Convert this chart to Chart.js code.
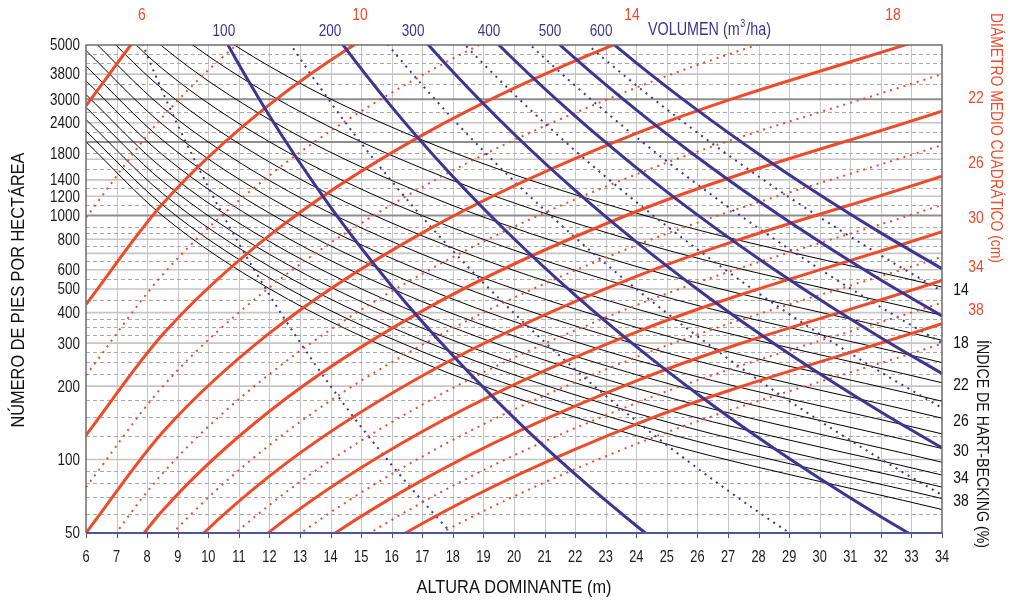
<!DOCTYPE html>
<html>
<head>
<meta charset="utf-8">
<script src="https://cdn.jsdelivr.net/npm/chart.js@4.4.1/dist/chart.umd.min.js"></script>
<style>
  html, body { margin: 0; padding: 0; background: #fff; }
  #wrap { width: 1010px; height: 603px; }
</style>
</head>
<body>
<div id="wrap"><canvas id="chart" width="1010" height="603"></canvas></div>
<script>
// dominant heights where the Hart-Becking and diameter curves were read
const heights = [6, 8.5, 12, 17, 24, 34];

// Hart-Becking index lines (%), trees per ha read at each height above
const hbIndex = [14, 16, 18, 20, 22, 24, 26, 28, 30, 32, 34, 36, 38, 40];
const hbTrees = [
  [16365, 8155, 4091, 2039, 1023, 509.6],
  [12529, 6243, 3132, 1561, 783.1, 390.2],
  [9900, 4933, 2475, 1233, 618.8, 308.3],
  [8019, 3996, 2005, 998.9, 501.2, 249.7],
  [6627, 3302, 1657, 825.5, 414.2, 206.4],
  [5569, 2775, 1392, 693.7, 348.1, 173.4],
  [4745, 2364, 1186, 591.1, 296.6, 147.8],
  [4091, 2039, 1023, 509.6, 255.7, 127.4],
  [3564, 1776, 891.0, 444.0, 222.8, 111.0],
  [3132, 1561, 783.0, 390.2, 195.8, 97.5],
  [2775, 1383, 693.8, 345.7, 173.4, 86.4],
  [2475, 1233, 618.8, 308.3, 154.7, 77.1],
  [2221, 1107, 555.3, 276.7, 138.8, 69.2],
  [2005, 999.1, 501.3, 249.8, 125.3, 62.4]
];
const hbLabelled = [14, 18, 22, 26, 30, 34, 38];

// quadratic mean diameter lines (cm), trees per ha at the same heights
const dgValues = [6, 8, 10, 12, 14, 16, 18, 20, 22, 24, 26, 28, 30, 32, 34, 36, 38, 40];
const dgTrees = [
  [2818, 7268, 18570, 47880, 122300, 315300],
  [981, 2529, 6461, 16660, 42570, 109700],
  [432.4, 1115, 2849, 7346, 18770, 48390],
  [221.4, 571.0, 1459, 3762, 9611, 24770],
  [125.8, 324.4, 828.9, 2137, 5461, 14080],
  [77.0, 198.6, 507.4, 1308, 3343, 8616],
  [50, 129.0, 329.5, 849.5, 2171, 5595],
  [33.98, 87.6, 223.9, 577.3, 1475, 3802],
  [23.94, 61.7, 157.7, 406.7, 1039, 2679],
  [17.39, 44.85, 114.6, 295.5, 754.9, 1946],
  [12.97, 33.45, 85.46, 220.4, 563.0, 1451],
  [9.881, 25.48, 65.11, 167.9, 428.9, 1106],
  [7.672, 19.79, 50.55, 130.3, 333.0, 858.5],
  [6.054, 15.61, 39.89, 102.9, 262.8, 677.4],
  [4.845, 12.50, 31.92, 82.32, 210.3, 542.2],
  [3.928, 10.13, 25.88, 66.74, 170.5, 439.5],
  [3.221, 8.307, 21.22, 54.72, 139.8, 360.4],
  [2.668, 6.881, 17.58, 45.33, 115.8, 298.5]
];
const dgTopLabels = ['6', '10', '14', '18'];
const dgTopLabelH = [7.83, 14.96, 23.86, 32.4];
const dgRightLabels = ['22', '26', '30', '34', '38'];

// stand volume lines (m3/ha), trees per ha read every 2 m of height
const volH = [6, 8, 10, 12, 14, 16, 18, 20, 22, 24, 26, 28, 30, 32, 34];
const volValues = [50, 100, 150, 200, 250, 300, 350, 400, 450, 500, 550, 600];
const volTrees = [
  [22620, 4544, 1308, 473, 200.1, 94.96, 49.22, 27.35, null, null, null, null, null, null, null],
  [null, 24620, 7088, 2563, 1084, 514.6, 266.8, 148.2, 87.07, 53.56, 34.28, null, null, null, null],
  [null, null, 19040, 6884, 2913, 1382, 716.6, 398.1, 233.9, 143.9, 92.1, 60.88, 41.44, null, null],
  [null, null, null, 13890, 5875, 2788, 1445, 803, 471.8, 290.2, 185.7, 122.8, 83.6, 58.3, 41.6],
  [null, null, null, 23920, 10120, 4804, 2490, 1383, 812.6, 500.0, 320.0, 211.5, 144.0, 100.4, 71.6],
  [null, null, null, null, 15790, 7493, 3884, 2158, 1267, 779.8, 499.0, 329.9, 224.5, 156.6, 111.7],
  [null, null, null, null, null, 10910, 5655, 3142, 1845, 1136, 726.6, 480.3, 326.9, 228.1, 162.6],
  [null, null, null, null, null, 15110, 7830, 4350, 2556, 1573, 1006, 665.3, 452.8, 315.9, 225.2],
  [null, null, null, null, null, null, 10430, 5797, 3406, 2096, 1341, 886.6, 603.4, 421.0, 300.1],
  [null, null, null, null, null, null, 13490, 7497, 4404, 2710, 1734, 1147, 780.2, 544.3, 388.0],
  [null, null, null, null, null, null, null, 9456, 5556, 3418, 2187, 1446, 984.2, 686.6, 489.5],
  [null, null, null, null, null, null, null, 11690, 6869, 4227, 2704, 1788, 1217, 849.0, 605.2]
];
const volTopLabels = ['100', '200', '300', '400', '500', '600'];
const volTopLabelH = [10.51, 13.98, 16.70, 19.18, 21.18, 22.85];

// axis ticks and horizontal guide lines (trees per ha)
const yTickValues = [50, 100, 200, 300, 400, 500, 600, 800, 1000, 1200, 1400, 1800, 2400, 3000, 3800, 5000];
const gridSolid = [100, 200, 300, 400, 500, 600, 700, 800, 1200, 1400, 1700, 2400, 3800];
const gridDark = [1000, 2000, 3000];
const gridDashed = [60, 70, 80, 90, 125, 150, 175, 225, 250, 275, 325, 350, 375, 450, 550, 650, 750, 850, 900,
  1100, 1300, 1550, 1800, 2200, 2650, 3450, 4200, 4600];

const RED = '#ef4a2a';
const BLUE = '#3c3592';
const FONT = "'Liberation Sans', Arial, sans-serif";

const datasets = [];
hbIndex.forEach((ih, i) => {
  datasets.push({
    label: 'IH ' + ih,
    data: heights.map((h, j) => ({ x: h, y: hbTrees[i][j] })),
    borderColor: '#000',
    borderWidth: 1,
    order: 4
  });
});
dgValues.forEach((d, i) => {
  const major = (d - 6) % 4 === 0;
  datasets.push({
    label: 'Dg ' + d,
    data: heights.map((h, j) => ({ x: h, y: dgTrees[i][j] })),
    borderColor: RED,
    borderWidth: major ? 3 : 2,
    borderDash: major ? [] : [2, 5],
    order: major ? 2 : 3
  });
});
volValues.forEach((v, i) => {
  const major = v % 100 === 0;
  datasets.push({
    label: 'V ' + v,
    data: volH.map((h, j) => ({ x: h, y: volTrees[i][j] })),
    borderColor: BLUE,
    borderWidth: major ? 3 : 2,
    borderDash: major ? [] : [2, 5],
    order: major ? 1 : 3
  });
});

// narrow-looking text: regular face squeezed horizontally
function text(ctx, s, x, y, size, color, opts) {
  opts = opts || {};
  ctx.save();
  ctx.font = size + 'px ' + FONT;
  ctx.fillStyle = color;
  ctx.textAlign = opts.align || 'center';
  ctx.textBaseline = 'middle';
  ctx.translate(x, y);
  if (opts.rot) ctx.rotate(opts.rot);
  const sx = opts.width ? opts.width / ctx.measureText(s).width : (opts.sx || 0.82);
  ctx.scale(sx, 1);
  ctx.fillText(s, 0, 0);
  ctx.restore();
}

const hLine = (ctx, a, py) => { ctx.beginPath(); ctx.moveTo(a.left, py); ctx.lineTo(a.right, py); ctx.stroke(); };

const diagram = {
  id: 'diagram',
  beforeDatasetsDraw(chart) {
    const { ctx, chartArea: a, scales: { x, y } } = chart;
    ctx.save();
    ctx.strokeStyle = '#c8c8c8';
    ctx.lineWidth = 1;
    for (let h = 7; h < 34; h++) {
      const px = Math.round(x.getPixelForValue(h)) + 0.5;
      ctx.beginPath(); ctx.moveTo(px, a.top); ctx.lineTo(px, a.bottom); ctx.stroke();
    }
    ctx.setLineDash([4, 3]);
    ctx.strokeStyle = '#a9a9a9';
    gridDashed.forEach(v => hLine(ctx, a, Math.round(y.getPixelForValue(v)) + 0.5));
    ctx.setLineDash([]);
    ctx.strokeStyle = '#c6c6c6';
    ctx.lineWidth = 1.6;
    gridSolid.forEach(v => hLine(ctx, a, y.getPixelForValue(v)));
    ctx.strokeStyle = '#8e8e8e';
    ctx.lineWidth = 2;
    gridDark.forEach(v => hLine(ctx, a, y.getPixelForValue(v)));
    ctx.restore();
  },
  afterDatasetsDraw(chart) {
    const { ctx, chartArea: a, scales: { x, y } } = chart;
    ctx.save();
    ctx.strokeStyle = '#6e6e6e';
    ctx.lineWidth = 1.5;
    ctx.beginPath();
    ctx.moveTo(a.left, a.bottom); ctx.lineTo(a.left, a.top); ctx.lineTo(a.right, a.top); ctx.lineTo(a.right, a.bottom);
    ctx.stroke();
    ctx.strokeStyle = '#4b569b';
    ctx.lineWidth = 2;
    ctx.beginPath(); ctx.moveTo(a.left, a.bottom); ctx.lineTo(a.right, a.bottom); ctx.stroke();
    ctx.strokeStyle = '#555';
    ctx.lineWidth = 1;
    x.ticks.forEach(t => {
      const px = Math.round(x.getPixelForValue(t.value)) + 0.5;
      ctx.beginPath(); ctx.moveTo(px, a.bottom); ctx.lineTo(px, a.bottom + 5); ctx.stroke();
    });
    ctx.restore();

    // tick labels from the library's ticks
    x.ticks.forEach(t => text(ctx, String(t.value), x.getPixelForValue(t.value), 557.5, 16, '#1a1a1a', { sx: 0.8 }));
    y.ticks.forEach(t => text(ctx, String(t.value), 80, y.getPixelForValue(t.value) + 1, 16, '#1a1a1a', { align: 'right', sx: 0.84 }));

    // labels on top
    dgTopLabels.forEach((s, i) => text(ctx, s, x.getPixelForValue(dgTopLabelH[i]), 15, 17, RED));
    volTopLabels.forEach((s, i) => text(ctx, s, x.getPixelForValue(volTopLabelH[i]), 31, 16.5, BLUE));
    ctx.save();
    ctx.font = '17.5px ' + FONT;
    const part1 = 'VOLUMEN (m';
    let vx = 648;
    text(ctx, part1, vx, 30, 17.5, BLUE, { align: 'left' });
    vx += ctx.measureText(part1).width * 0.82 + 0.5;
    text(ctx, '3', vx, 24, 11, BLUE, { align: 'left' });
    vx += 6;
    text(ctx, '/ha)', vx, 30, 17.5, BLUE, { align: 'left' });
    ctx.restore();

    // labels on the right
    dgRightLabels.forEach(s => {
      const i = dgValues.indexOf(Number(s));
      const end = dgTrees[i][dgTrees[i].length - 1];
      text(ctx, s, 976, y.getPixelForValue(end) - 13, 17, RED);
    });
    hbLabelled.forEach(ih => {
      const i = hbIndex.indexOf(ih);
      const end = hbTrees[i][hbTrees[i].length - 1];
      text(ctx, String(ih), 961, y.getPixelForValue(end) + 3, 17, '#111');
    });

    // axis titles
    text(ctx, 'NÚMERO DE PIES POR HECTÁREA', 19, 290, 19, '#111', { rot: -Math.PI / 2, width: 275 });
    text(ctx, 'ALTURA DOMINANTE (m)', 514, 588, 19, '#111', { width: 195 });
    text(ctx, 'DIÁMETRO MEDIO CUADRÁTICO (cm)', 996, 138, 17, RED, { rot: Math.PI / 2, width: 250 });
    text(ctx, 'ÍNDICE DE HART-BECKING (%)', 982, 444, 17, '#111', { rot: Math.PI / 2, width: 208 });
  }
};

new Chart(document.getElementById('chart'), {
  type: 'line',
  data: { datasets },
  options: {
    responsive: false,
    animation: false,
    events: [],
    layout: { padding: { left: 0, right: 68, top: 45, bottom: 0 } },
    elements: {
      point: { radius: 0 },
      line: { cubicInterpolationMode: 'monotone', fill: false }
    },
    plugins: { legend: { display: false }, tooltip: { enabled: false } },
    scales: {
      x: {
        type: 'linear', min: 6, max: 34,
        grid: { display: false, drawTicks: false },
        border: { display: false },
        afterFit: s => { s.height = 70; },
        ticks: { display: false, stepSize: 1, autoSkip: false, maxRotation: 0 }
      },
      y: {
        type: 'logarithmic', min: 50, max: 5000,
        grid: { display: false, drawTicks: false },
        border: { display: false },
        afterFit: s => { s.width = 86; },
        afterBuildTicks: s => { s.ticks = yTickValues.map(v => ({ value: v })); },
        ticks: { display: false, autoSkip: false }
      }
    }
  },
  plugins: [diagram]
});
</script>
</body>
</html>
